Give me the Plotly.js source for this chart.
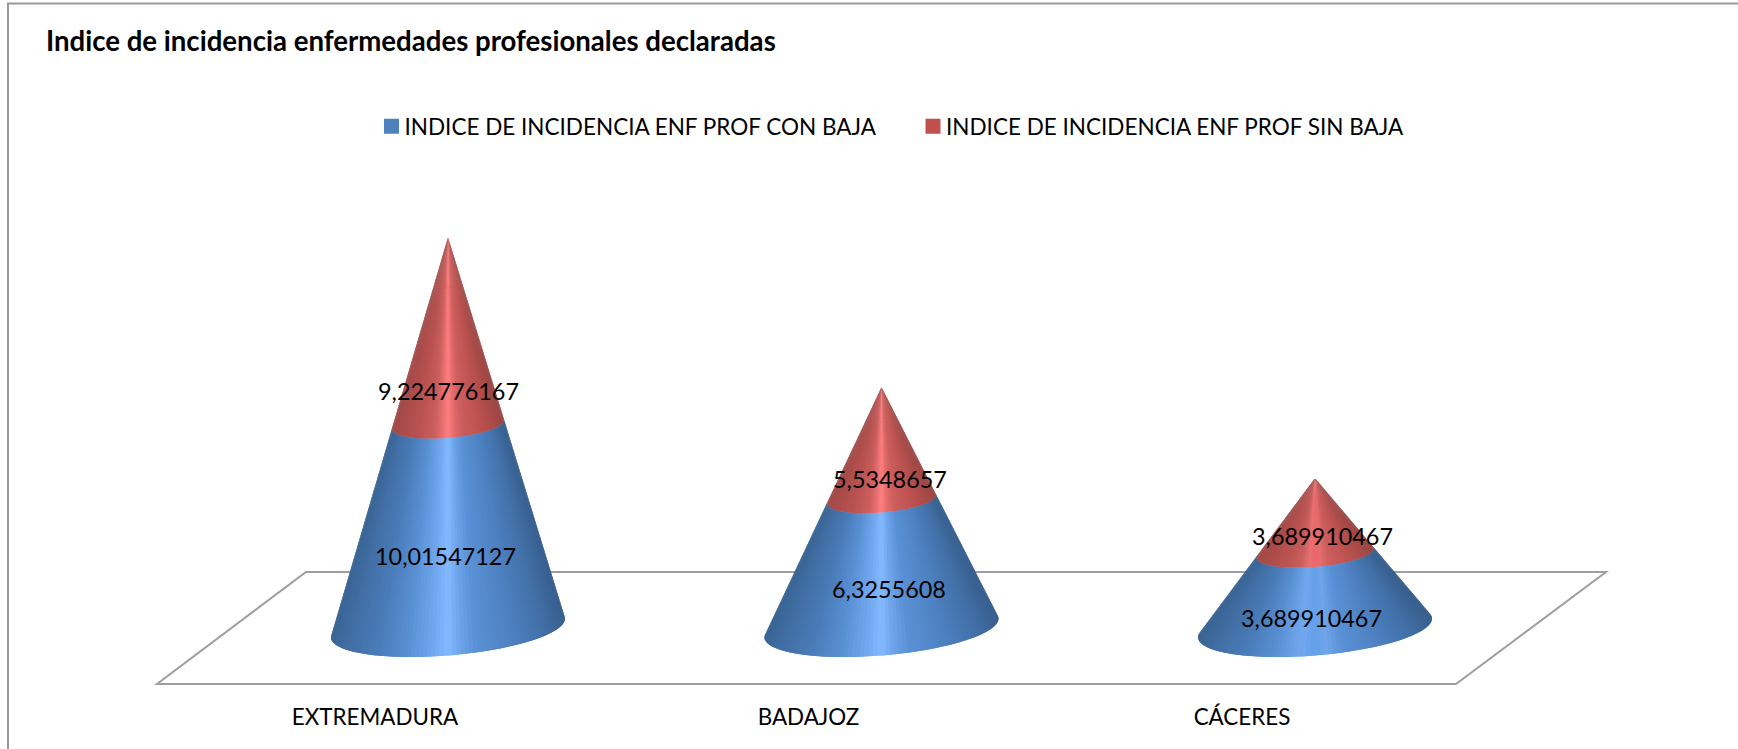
<!DOCTYPE html>
<html>
<head>
<meta charset="utf-8">
<script src="https://cdn.plot.ly/plotly-3.0.1.min.js"></script>
<style>html,body{margin:0;padding:0;background:#fff;overflow:hidden}</style>
</head>
<body>
<div id="chart" style="width:1738px;height:749px"></div>
<script>
// ---------- data ----------
const categories = ['EXTREMADURA', 'BADAJOZ', 'CÁCERES'];
const seriesNames = ['INDICE DE INCIDENCIA ENF PROF CON BAJA', 'INDICE DE INCIDENCIA ENF PROF SIN BAJA'];
const conBaja = [10.01547127, 6.3255608, 3.689910467];
const sinBaja = [9.224776167, 5.5348657, 3.689910467];
const conBajaLabels = ['10,01547127', '6,3255608', '3,689910467'];
const sinBajaLabels = ['9,224776167', '5,5348657', '3,689910467'];

// ---------- style ----------
const W = 1738, H = 749, MB = 47;
const pxPerX = 433.5, pxPerY = 20.3, x0px = 448, y0px = 628;
const FONT = 'Lato, Carlito, Calibri, sans-serif';
const radiusPx = 117, tilt = 0.08, squash = 0.235, N = 90;
const conBajaCenters = ['#84baff', '#84baff', '#639fe8'];
const sinBajaCenters = ['#ff7f80', '#ff7f80', '#ec666a'];
const blueStops = [[0,'#3a6596'],[0.08,'#426fa6'],[0.2,'#4a7cb9'],[0.33,'#5a90d4'],[0.44,'#72a8ef'],[0.5,null],[0.55,'#6ea5ea'],[0.62,'#5a91d6'],[0.78,'#4d80c0'],[0.9,'#4371a9'],[1,'#38608f']];
const redStops = [[0,'#a04a48'],[0.1,'#ad4d4b'],[0.25,'#bb5452'],[0.38,'#cb5f5e'],[0.45,'#e87071'],[0.5,null],[0.55,'#e56d6e'],[0.62,'#cd5f5e'],[0.8,'#bc5250'],[1,'#9a4644']];
const legendColors = ['#4f81bd', '#c0504d'];

const xFromPx = p => (p - x0px) / pxPerX;
const yFromPx = p => (y0px - p) / pxPerY;
const xp = p => p / W;
const yp = p => (H - MB - p) / (H - MB);

function hexRgb(h){return [1,3,5].map(i=>parseInt(h.substr(i,2),16));}
function shade(stops, center, t){
  const s = stops.map(a=>[a[0], hexRgb(a[1]===null?center:a[1])]);
  for(let i=0;i<s.length-1;i++){
    if(t<=s[i+1][0]){
      const f=(t-s[i][0])/(s[i+1][0]-s[i][0]);
      const c=s[i][1].map((v,k)=>Math.round(v+(s[i+1][1][k]-v)*f));
      return 'rgb('+c.join(',')+')';
    }
  }
  return 'rgb('+s[s.length-1][1].join(',')+')';
}

// A point on the ring of a cone, at height h (data units), for a cone topped at total.
function ring(cat, total, h, th){
  const k = 1 - h/total;
  const rx = radiusPx*k/pxPerX;
  const c = Math.cos(th), s = Math.sin(th);
  return [cat + rx*c, h + (radiusPx*k*(tilt*c - squash*s))/pxPerY];
}

const traces = [];
seriesNames.forEach((name,i)=>{
  traces.push({type:'scatter',mode:'markers',x:[null],y:[null],name:name,showlegend:true,
    marker:{symbol:'square',size:15,color:legendColors[i]},hoverinfo:'skip'});
});

categories.forEach((cat,ci)=>{
  const v1 = conBaja[ci], v2 = sinBaja[ci], total = v1+v2;
  const over = Math.asin(Math.min(0.9, squash*radiusPx/(total*pxPerY)));
  const a0 = -over, a1 = Math.PI + over;
  for(let i=0;i<N;i++){
    // each facet runs on under the next one, so no seam shows between them
    const t0 = a0+(a1-a0)*i/N, t1 = a0+(a1-a0)*Math.min(N,i+2)/N, tm=a0+(a1-a0)*(i+0.5)/N;
    const tone = Math.min(1,Math.max(0,(1+Math.cos(tm))/2));
    const b0=ring(ci,total,0,t0), b1=ring(ci,total,0,t1), m0=ring(ci,total,v1,t0), m1=ring(ci,total,v1,t1);
    const apex=[ci,total];
    const colA=shade(blueStops,conBajaCenters[ci],tone);
    const colB=shade(redStops,sinBajaCenters[ci],tone);
    traces.push({type:'scatter',mode:'none',fill:'toself',fillcolor:colA,
      x:[b0[0],b1[0],m1[0],m0[0],b0[0]],y:[b0[1],b1[1],m1[1],m0[1],b0[1]],
      showlegend:false,hoverinfo:'skip',name:seriesNames[0]+' '+categories[ci]});
    traces.push({type:'scatter',mode:'none',fill:'toself',fillcolor:colB,
      x:[m0[0],m1[0],apex[0],m0[0]],y:[m0[1],m1[1],apex[1],m0[1]],
      showlegend:false,hoverinfo:'skip',name:seriesNames[1]+' '+categories[ci]});
  }
});

// data labels
const labelDxA=[-3,7,-4], labelDyA=[30,25,27.5], labelDxB=[0,8,7], labelDyB=[60,36,20.5];
const annotations=[];
categories.forEach((c,i)=>{
  annotations.push({x:i,y:conBaja[i]/2,xref:'x',yref:'y',text:conBajaLabels[i],showarrow:false,
    xshift:labelDxA[i],yshift:-labelDyA[i],font:{family:FONT,size:23.4,color:'#000'}});
  annotations.push({x:i,y:conBaja[i]+sinBaja[i]/2,xref:'x',yref:'y',text:sinBajaLabels[i],showarrow:false,
    xshift:labelDxB[i],yshift:-labelDyB[i],font:{family:FONT,size:23.4,color:'#000'}});
});

const grey='#9e9e9e';
const floor=[[306,572],[1606,572],[1456,684],[157,684]];
const floorPath='M'+floor.map(p=>xp(p[0]).toFixed(5)+','+yp(p[1]).toFixed(5)).join(' L')+' Z';
const shapes=[
  {type:'path',xref:'paper',yref:'paper',path:floorPath,line:{color:grey,width:2},layer:'below'},
  {type:'line',xref:'paper',yref:'paper',x0:xp(8),x1:xp(8),y0:yp(3),y1:yp(749),line:{color:'#999999',width:2}},
  {type:'line',xref:'paper',yref:'paper',x0:xp(7),x1:xp(1738),y0:yp(3.5),y1:yp(3.5),line:{color:'#999999',width:2}}
];

const layout={
  width:W,height:H,autosize:false,
  margin:{l:0,r:0,t:0,b:MB,pad:0},
  paper_bgcolor:'#fff',plot_bgcolor:'rgba(0,0,0,0)',
  title:{text:'Indice de incidencia enfermedades profesionales declaradas',
    x:46/W,xanchor:'left',xref:'container',y:1-41/H,yanchor:'middle',yref:'container',
    font:{family:FONT,size:27.6,color:'#000',weight:700}},
  xaxis:{range:[xFromPx(0),xFromPx(W)],showgrid:false,zeroline:false,showline:false,
    tickmode:'array',tickvals:categories.map((c,i)=>i-73/pxPerX),ticktext:categories,ticks:'',
    tickfont:{family:FONT,size:22.4,color:'#000'},fixedrange:true},
  yaxis:{range:[yFromPx(H-MB),yFromPx(0)],showgrid:false,zeroline:false,showline:false,showticklabels:false,ticks:'',fixedrange:true},
  showlegend:true,
  legend:{orientation:'h',x:364.5/W,xanchor:'left',y:yp(105),yanchor:'top',font:{family:FONT,size:22.5,color:'#000'},
    bgcolor:'rgba(0,0,0,0)',itemclick:false,itemdoubleclick:false,traceorder:'normal',
    entrywidth:496.5,entrywidthmode:'pixels'},
  annotations:annotations,shapes:shapes
};
Plotly.newPlot('chart',traces,layout,{displayModeBar:false,responsive:false}).then(()=>{
  // sit the legend swatches closer to their text, as in the original
  document.querySelectorAll('.legend .legendpoints path.scatterpts').forEach(p=>{
    const m=/translate\(([-\d.]+)/.exec(p.getAttribute('transform')||'');
    if(m){p.setAttribute('transform','translate('+(parseFloat(m[1])+7)+',0)');}
  });
});
</script>
</body>
</html>
